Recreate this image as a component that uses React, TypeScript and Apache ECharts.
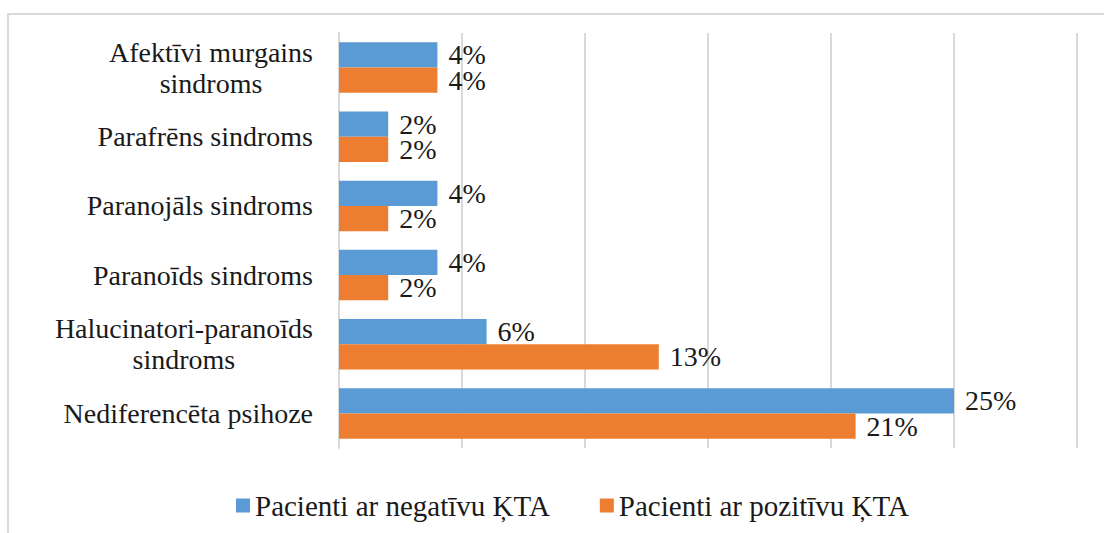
import React, { useEffect, useRef } from "react";
import * as echarts from "echarts";

const categories = [
  "Afektīvi murgains\nsindroms",
  "Parafrēns sindroms",
  "Paranojāls sindroms",
  "Paranoīds sindroms",
  "Halucinatori-paranoīds\nsindroms",
  "Nediferencēta psihoze",
];
const negativeValues = [4, 2, 4, 4, 6, 25];
const positiveValues = [4, 2, 2, 2, 13, 21];
const seriesNames = ["Pacienti ar negatīvu ĶTA", "Pacienti ar pozitīvu ĶTA"];

const FONT = "'Liberation Serif', 'Times New Roman', Times, serif";
const FS = 28;

export default function App() {
  const ref = useRef<HTMLDivElement>(null);
  useEffect(() => {
    if (!ref.current) return;
    const chart = echarts.init(ref.current, null, { renderer: "svg" });
    const labelStyle = {
      show: true,
      position: "right",
      distance: 11,
      formatter: "{c}%",
      fontFamily: FONT,
      fontSize: FS,
      lineHeight: 25,
      color: "#1a1a1a",
    };
    chart.setOption({
      animation: false,
      backgroundColor: "#ffffff",
      textStyle: { fontFamily: FONT },
      graphic: [
        {
          type: "rect",
          z: -10,
          silent: true,
          shape: { x: 8, y: 14, width: 1300, height: 700 },
          style: { fill: "none", stroke: "#d9d9d9", lineWidth: 2 },
        },
      ],
      grid: { left: 339, right: 27, top: 33, bottom: 85, containLabel: false },
      legend: {
        left: 231,
        top: 486,
        itemWidth: 14,
        itemHeight: 14,
        itemGap: 50,
        icon: "rect",
        textStyle: { fontFamily: FONT, fontSize: 29, color: "#1a1a1a" },
        data: seriesNames,
      },
      xAxis: {
        type: "value",
        min: 0,
        max: 30,
        interval: 5,
        axisLabel: { show: false },
        axisLine: { show: false },
        axisTick: { show: false },
        splitLine: { show: true, lineStyle: { color: "#d9d9d9", width: 2 } },
      },
      yAxis: {
        type: "category",
        inverse: true,
        data: categories,
        axisLine: { show: true, lineStyle: { color: "#d9d9d9", width: 2 } },
        axisTick: { show: false },
        axisLabel: {
          margin: 26,
          align: "right",
          fontFamily: FONT,
          formatter: (v: string) =>
            v
              .split("\n")
              .map((s) => "{c|" + s + "}")
              .join("\n"),
          rich: {
            c: {
              align: "center",
              fontFamily: FONT,
              fontSize: FS,
              lineHeight: 31,
              color: "#1a1a1a",
            },
          },
        },
      },
      series: [
        {
          name: seriesNames[0],
          type: "bar",
          data: negativeValues,
          barGap: "0%",
          barCategoryGap: "27%",
          itemStyle: { color: "#5B9BD5" },
          label: labelStyle,
        },
        {
          name: seriesNames[1],
          type: "bar",
          data: positiveValues,
          barGap: "0%",
          barCategoryGap: "27%",
          itemStyle: { color: "#ED7D31" },
          label: labelStyle,
        },
      ],
    });
    return () => chart.dispose();
  }, []);
  return (
    <div
      ref={ref}
      style={{ position: "absolute", left: 0, top: 0, width: 1104, height: 533 }}
    />
  );
}
